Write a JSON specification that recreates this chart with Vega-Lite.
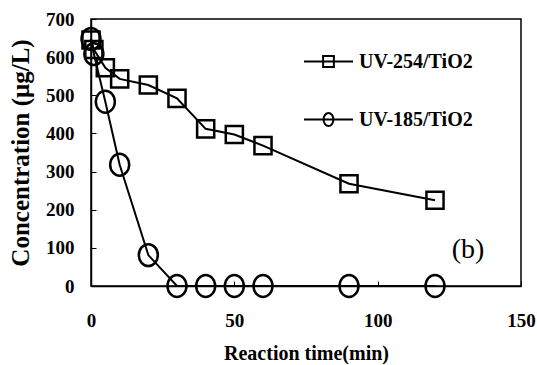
{
  "$schema": "https://vega.github.io/schema/vega-lite/v6.json",
  "width": 430,
  "height": 267,
  "autosize": {"type": "none"},
  "padding": {"left": 91, "top": 19, "right": 16, "bottom": 79},
  "config": {
    "font": "Liberation Serif",
    "view": {"stroke": "black", "strokeWidth": 1.5},
    "axis": {
      "domainColor": "black", "domainWidth": 1.5,
      "tickColor": "black", "tickWidth": 1, "tickSize": -5,
      "grid": false, "labelFlush": false,
      "labelFont": "Liberation Serif", "labelFontWeight": "bold", "labelFontSize": 19, "labelColor": "black",
      "titleFont": "Liberation Serif", "titleFontWeight": "bold", "titleFontSize": 19, "titleColor": "black"
    }
  },
  "data": {
    "values": [
      {"series": "UV-254/TiO2", "time": 0, "conc": 645},
      {"series": "UV-254/TiO2", "time": 1, "conc": 620},
      {"series": "UV-254/TiO2", "time": 5, "conc": 572},
      {"series": "UV-254/TiO2", "time": 10, "conc": 543},
      {"series": "UV-254/TiO2", "time": 20, "conc": 527},
      {"series": "UV-254/TiO2", "time": 30, "conc": 492},
      {"series": "UV-254/TiO2", "time": 40, "conc": 412},
      {"series": "UV-254/TiO2", "time": 50, "conc": 397},
      {"series": "UV-254/TiO2", "time": 60, "conc": 368},
      {"series": "UV-254/TiO2", "time": 90, "conc": 268},
      {"series": "UV-254/TiO2", "time": 120, "conc": 225},
      {"series": "UV-185/TiO2", "time": 0, "conc": 648},
      {"series": "UV-185/TiO2", "time": 1, "conc": 608},
      {"series": "UV-185/TiO2", "time": 5, "conc": 483},
      {"series": "UV-185/TiO2", "time": 10, "conc": 318},
      {"series": "UV-185/TiO2", "time": 20, "conc": 81},
      {"series": "UV-185/TiO2", "time": 30, "conc": 0},
      {"series": "UV-185/TiO2", "time": 40, "conc": 0},
      {"series": "UV-185/TiO2", "time": 50, "conc": 0},
      {"series": "UV-185/TiO2", "time": 60, "conc": 0},
      {"series": "UV-185/TiO2", "time": 90, "conc": 0},
      {"series": "UV-185/TiO2", "time": 120, "conc": 0}
    ]
  },
  "encoding": {
    "x": {"field": "time", "type": "quantitative",
      "scale": {"domain": [0, 150], "nice": false},
      "axis": {"values": [0, 50, 100, 150], "title": "Reaction time(min)", "labelPadding": 30, "titlePadding": 13, "titleFontSize": 20}},
    "y": {"field": "conc", "type": "quantitative",
      "scale": {"domain": [0, 700], "nice": false},
      "axis": {"values": [0, 100, 200, 300, 400, 500, 600, 700], "title": "Concentration (μg/L)", "labelPadding": 22, "titlePadding": 12, "titleFontSize": 25}}
  },
  "layer": [
    {
      "mark": {"type": "line", "stroke": "black", "strokeWidth": 2},
      "encoding": {"detail": {"field": "series"}}
    },
    {
      "mark": {"type": "point", "filled": false, "stroke": "black", "strokeWidth": 2.5, "size": 361, "opacity": 1},
      "encoding": {
        "shape": {"field": "series", "type": "nominal",
          "scale": {"domain": ["UV-254/TiO2", "UV-185/TiO2"],
            "range": ["M-0.9,-0.9H0.9V0.9H-0.9Z", "M0,-1.15A1,1.15 0 1,1 0,1.15A1,1.15 0 1,1 0,-1.15Z"]},
          "legend": null
        }
      }
    },
    {
      "transform": [{"filter": "datum.time < 0"}],
      "mark": {"type": "point", "filled": false, "stroke": "black", "strokeWidth": 2, "size": 2401, "opacity": 1},
      "encoding": {
        "shape": {"field": "series", "type": "nominal",
          "scale": {"domain": ["UV-254/TiO2", "UV-185/TiO2"],
            "range": ["M-1,0H1M-0.22,-0.22H0.22V0.22H-0.22Z", "M-1,0H1M0,-0.27A0.2,0.27 0 1,1 0,0.27A0.2,0.27 0 1,1 0,-0.27Z"]},
          "legend": {
            "title": null, "orient": "none", "legendX": 212, "legendY": 17,
            "symbolSize": 2401, "symbolStrokeWidth": 2, "symbolStrokeColor": "black", "symbolFillColor": "transparent",
            "rowPadding": 22, "labelOffset": 5,
            "labelFont": "Liberation Serif", "labelFontWeight": "bold", "labelFontSize": 20, "labelColor": "black"
          }
        }
      }
    },
    {
      "transform": [{"filter": "datum.time == 120 && datum.series == 'UV-185/TiO2'"}],
      "mark": {"type": "text", "text": "(b)", "font": "Liberation Serif", "fontWeight": "normal", "fontSize": 28, "fill": "black", "align": "center", "baseline": "middle"},
      "encoding": {
        "x": {"datum": 131.5},
        "y": {"datum": 94}
      }
    }
  ],
  "resolve": {"scale": {"shape": "independent"}, "legend": {"shape": "independent"}}
}
